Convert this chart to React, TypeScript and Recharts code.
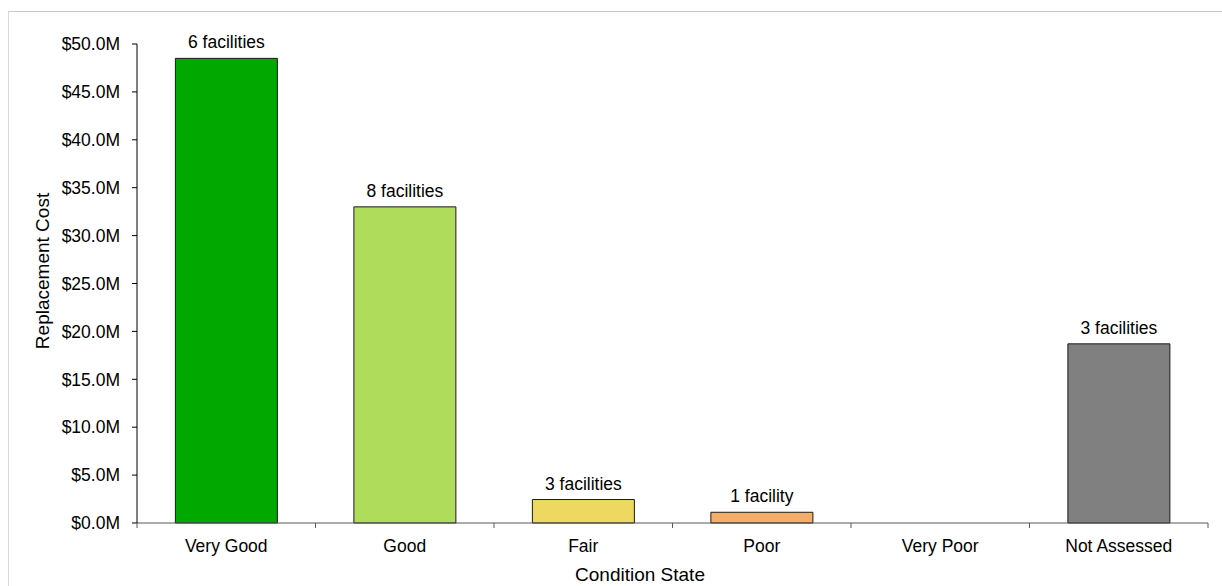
import React from 'react';
import { BarChart, Bar, XAxis, YAxis, Cell, LabelList } from 'recharts';

const categories = ['Very Good', 'Good', 'Fair', 'Poor', 'Very Poor', 'Not Assessed'];
const replacementCost = [48500000, 33000000, 2450000, 1120000, 0, 18700000];
const facilityCounts = [6, 8, 3, 1, 0, 3];
const barColors = ['#00a800', '#b0dc5c', '#edd960', '#f5ae6a', '#c00000', '#808080'];
const yTicks = [0, 5e6, 10e6, 15e6, 20e6, 25e6, 30e6, 35e6, 40e6, 45e6, 50e6];

const facilityLabel = (n: number) => (n === 0 ? '' : n === 1 ? '1 facility' : `${n} facilities`);

const data = categories.map((name, i) => ({
  name,
  cost: replacementCost[i],
  label: facilityLabel(facilityCounts[i]),
}));

const W = 1222;
const H = 586;
const margin = { top: 44, right: 14, left: 0, bottom: 23 };
const yAxisWidth = 137;
const bandWidth = (W - margin.left - margin.right - yAxisWidth) / categories.length;
const font = '"Liberation Sans", Arial, sans-serif';

const CategoryTick = (props: any) => {
  const { x, y, payload, index } = props;
  const axisY = y - 7;
  const half = bandWidth / 2;
  return (
    <g>
      <line x1={x - half} x2={x - half} y1={axisY} y2={axisY + 5} stroke="#595959" />
      {index === categories.length - 1 && (
        <line x1={x + half} x2={x + half} y1={axisY} y2={axisY + 5} stroke="#595959" />
      )}
      <text x={x} y={axisY + 29} textAnchor="middle" fill="#000" fontSize={17.5} fontFamily={font}>
        {payload.value}
      </text>
    </g>
  );
};

const YTitle = () => (
  <text
    x={42}
    y={271}
    transform="rotate(-90 42 271)"
    textAnchor="middle"
    dominantBaseline="central"
    fill="#000"
    fontSize={19}
    fontFamily={font}
  >
    Replacement Cost
  </text>
);

const XTitle = () => (
  <text x={640} y={581} textAnchor="middle" fill="#000" fontSize={19} fontFamily={font}>
    Condition State
  </text>
);

const App: React.FC = () => {
  return (
    <div style={{ position: 'absolute', left: 0, top: 0, width: W, height: H, background: '#fff' }}>
      <div
        style={{
          position: 'absolute',
          left: 8,
          top: 11,
          right: 0,
          bottom: 0,
          borderTop: '1px solid #c8c8c8',
          borderLeft: '1px solid #d9d9d9',
        }}
      />
      <div style={{ position: 'absolute', left: 0, top: 0 }}>
        <BarChart width={W} height={H} data={data} margin={margin} barCategoryGap="21.5%">
          <XAxis
            dataKey="name"
            height={40}
            stroke="#595959"
            tickLine={false}
            tickSize={5}
            tickMargin={2}
            interval={0}
            tick={<CategoryTick />}
            label={<XTitle />}
          />
          <YAxis
            width={yAxisWidth}
            domain={[0, 50000000]}
            ticks={yTicks}
            interval={0}
            stroke="#000"
            tickSize={5}
            tickMargin={12}
            tick={{ fill: '#000', fontSize: 17.5, fontFamily: font }}
            tickFormatter={(v: number) => `$${(v / 1e6).toFixed(1)}M`}
            label={<YTitle />}
          />
          <Bar dataKey="cost" stroke="#1a1a1a" strokeWidth={1} isAnimationActive={false}>
            {data.map((d, i) => (
              <Cell key={d.name} fill={barColors[i]} />
            ))}
            <LabelList
              dataKey="label"
              position="top"
              offset={10}
              fill="#000"
              fontSize={17.5}
              fontFamily={font}
            />
          </Bar>
        </BarChart>
      </div>
    </div>
  );
};

export default App;
